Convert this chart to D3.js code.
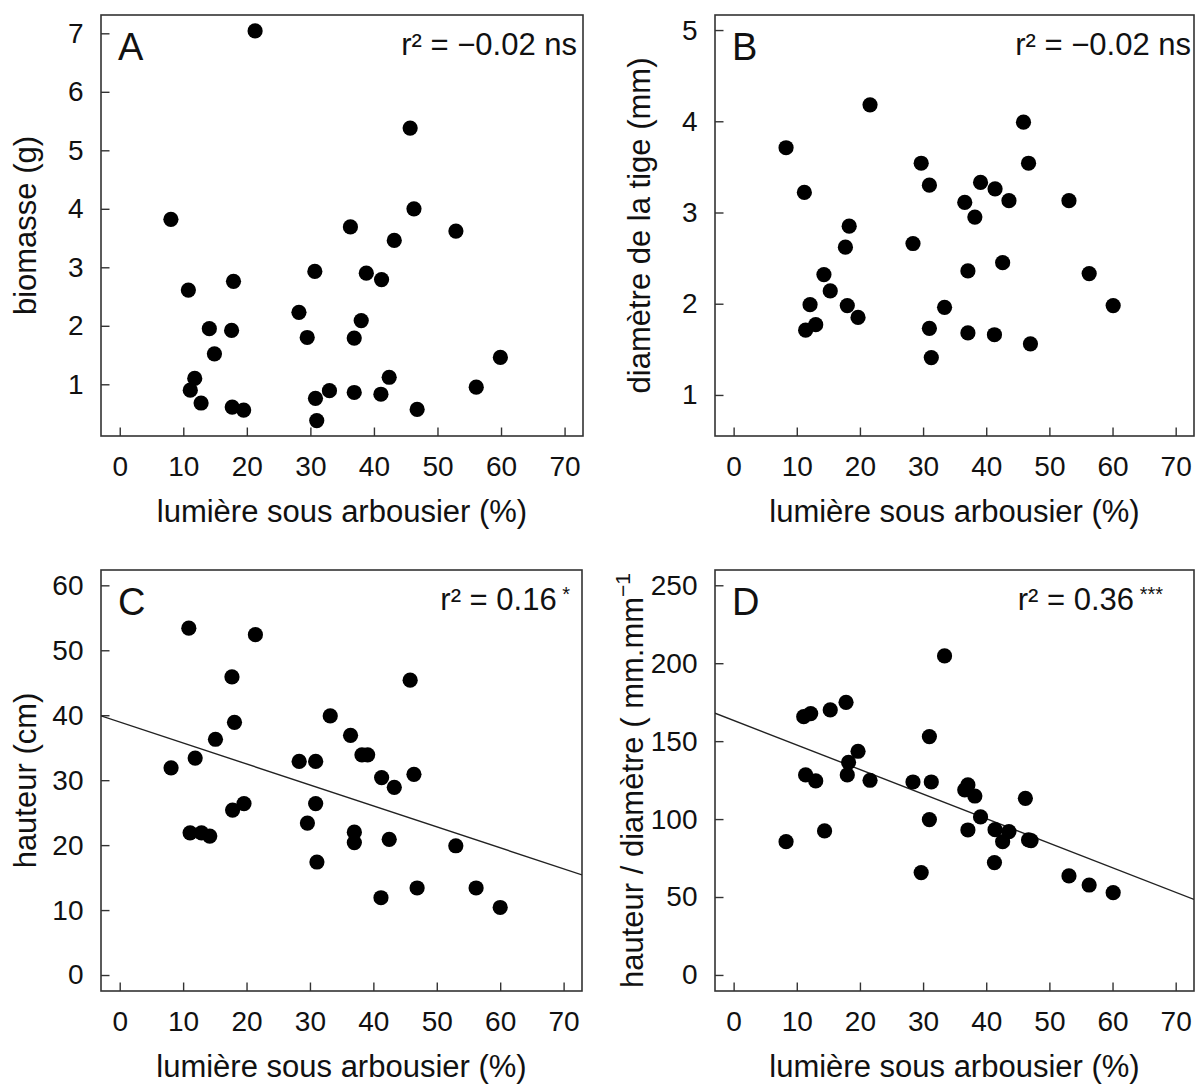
<!DOCTYPE html>
<html><head><meta charset="utf-8">
<script src="https://cdn.jsdelivr.net/npm/d3@7"></script>
<style>
html,body{margin:0;padding:0;background:#fff;}
svg{display:block;}
text{font-family:"Liberation Sans",Arial,Helvetica,sans-serif;fill:#111;}
</style></head>
<body>
<svg id="chart" width="1197" height="1084"></svg>
<script>
// ---------- data ----------
const xTicks = [0, 10, 20, 30, 40, 50, 60, 70];
const xTitle = "lumière sous arbousier (%)";

const lightA = [21.3,45.7,46.3,8.05,36.3,52.9,43.2,30.7,38.8,41.2,10.8,17.9,28.2,38.0,14.1,17.6,29.5,36.9,14.9,59.9,11.8,42.4,11.1,56.1,33.0,36.9,41.1,30.8,12.8,17.7,19.5,46.8,31.0];
const biomass = [7.04,5.38,4.00,3.82,3.69,3.62,3.46,2.93,2.90,2.79,2.61,2.76,2.23,2.09,1.95,1.92,1.80,1.79,1.52,1.46,1.10,1.12,0.90,0.95,0.89,0.86,0.83,0.76,0.68,0.61,0.56,0.57,0.38];
const ticksA = [1,2,3,4,5,6,7];

const lightB = [21.6,45.9,8.3,29.7,46.7,31.0,39.1,41.4,11.2,36.6,43.6,53.1,38.2,18.3,17.7,28.4,42.6,37.1,56.3,14.3,15.3,12.1,18.0,60.1,33.4,19.7,11.4,13.0,31.0,37.1,41.3,47.0,31.3];
const diameter = [4.18,3.99,3.71,3.54,3.54,3.30,3.33,3.26,3.22,3.11,3.13,3.13,2.95,2.85,2.62,2.66,2.45,2.36,2.33,2.32,2.14,1.99,1.98,1.98,1.96,1.85,1.71,1.77,1.73,1.68,1.66,1.56,1.41];
const ticksB = [1,2,3,4,5];

const lightC = [10.9,21.4,17.7,45.8,33.2,18.1,15.1,36.4,38.2,39.1,11.9,8.1,28.3,30.9,46.4,41.3,43.3,30.9,19.6,17.8,29.6,37.0,37.0,42.5,11.1,12.9,14.2,53.0,31.1,46.9,56.2,41.2,60.0];
const heightCm = [53.4,52.4,45.9,45.4,39.9,38.9,36.3,36.9,33.9,33.9,33.4,31.9,32.9,32.9,30.9,30.4,28.9,26.4,26.4,25.4,23.4,22.0,20.4,20.9,21.9,21.9,21.4,19.9,17.4,13.4,13.4,11.9,10.4];
const ticksC = [0,10,20,30,40,50,60];
const fitC = [38.96, -0.323]; // intercept, slope

const lightD = [33.4,17.8,15.3,12.2,11.1,31.0,19.7,18.2,18.0,11.4,13.0,21.6,28.4,31.3,37.1,36.6,38.2,46.2,39.1,31.0,41.4,43.6,37.1,42.6,46.7,47.1,14.4,8.3,41.3,29.7,53.1,56.3,60.1];
const ratio = [204.7,174.9,170.0,167.7,165.7,152.9,143.5,136.4,128.3,128.3,124.5,124.9,123.8,123.8,121.9,118.7,114.8,113.3,101.4,99.7,93.2,92.0,93.0,85.5,86.6,86.2,92.4,85.5,72.1,65.7,63.5,57.7,52.8];
const ticksD = [0,50,100,150,200,250];
const fitD = [163.3, -1.575];

const panels = [
  {id:"A", x:lightA, y:biomass, yTicks:ticksA, yDom:[0.116,7.313], box:[101,583,15,436], ylab:"biomasse (g)", ylabX:36, r2:"r² = −0.02 ns", stars:"", r2Right:577, fit:null},
  {id:"B", x:lightB, y:diameter, yTicks:ticksB, yDom:[0.55,5.165], box:[715,1194,15,436], ylab:"diamètre de la tige (mm)", ylabX:650, r2:"r² = −0.02 ns", stars:"", r2Right:1191, fit:null},
  {id:"C", x:lightC, y:heightCm, yTicks:ticksC, yDom:[-2.46,62.36], box:[101,582,570,991], ylab:"hauteur (cm)", ylabX:36, r2:"r² = 0.16", stars:"*", r2Right:570, fit:fitC},
  {id:"D", x:lightD, y:ratio, yTicks:ticksD, yDom:[-10.3,259.8], box:[715,1194,570,991], ylab:"hauteur / diamètre ( mm.mm", ylabSup:"−1", ylabX:643, r2:"r² = 0.36", stars:"***", r2Right:1163, fit:fitD}
];

// ---------- drawing ----------
const svg = d3.select("#chart");
const defs = svg.append("defs");
const tickLen = 8.5;

panels.forEach(p => {
  const [L, R, T, B] = p.box;
  const xs = d3.scaleLinear().domain([-2.95, 72.9]).range([L, R]);
  const ys = d3.scaleLinear().domain(p.yDom).range([B, T]);
  const g = svg.append("g");

  defs.append("clipPath").attr("id", "clip" + p.id)
    .append("rect").attr("x", L).attr("y", T).attr("width", R - L).attr("height", B - T);

  // x axis (inward ticks)
  const xa = g.append("g").attr("transform", `translate(0,${B})`)
    .call(d3.axisBottom(xs).tickValues(xTicks).tickSize(-tickLen).tickPadding(tickLen + 12).tickFormat(d3.format("d")));
  xa.select(".domain").remove();
  xa.selectAll(".tick line").attr("stroke", "#333").attr("stroke-width", 1.4);
  xa.selectAll(".tick text").attr("font-size", 28).attr("fill", "#111")
    .attr("font-family", '"Liberation Sans",Arial,sans-serif');

  // y axis
  const ya = g.append("g").attr("transform", `translate(${L},0)`)
    .call(d3.axisLeft(ys).tickValues(p.yTicks).tickSize(-tickLen).tickPadding(tickLen + 9).tickFormat(d3.format("d")));
  ya.select(".domain").remove();
  ya.selectAll(".tick line").attr("stroke", "#333").attr("stroke-width", 1.4);
  ya.selectAll(".tick text").attr("font-size", 28).attr("fill", "#111")
    .attr("font-family", '"Liberation Sans",Arial,sans-serif');

  // box
  g.append("rect").attr("x", L).attr("y", T).attr("width", R - L).attr("height", B - T)
    .attr("fill", "none").attr("stroke", "#333").attr("stroke-width", 1.6);

  // regression line
  if (p.fit) {
    const d0 = xs.domain()[0], d1 = xs.domain()[1];
    g.append("line").attr("clip-path", `url(#clip${p.id})`)
      .attr("x1", xs(d0)).attr("y1", ys(p.fit[0] + p.fit[1] * d0))
      .attr("x2", xs(d1)).attr("y2", ys(p.fit[0] + p.fit[1] * d1))
      .attr("stroke", "#222").attr("stroke-width", 1.4);
  }

  // points
  g.append("g").selectAll("circle").data(p.x.map((v, i) => [v, p.y[i]])).join("circle")
    .attr("cx", d => xs(d[0])).attr("cy", d => ys(d[1])).attr("r", 7.6).attr("fill", "#000");

  // panel letter
  g.append("text").attr("x", L + 17).attr("y", T + 45).attr("font-size", 38).text(p.id);

  // r² annotation
  const rt = g.append("text").attr("x", p.r2Right).attr("y", T + 40).attr("text-anchor", "end").attr("font-size", 31);
  rt.append("tspan").text(p.r2);
  if (p.stars) {
    rt.append("tspan").attr("font-size", 20).attr("dy", -9).text(" " + p.stars);
  }

  // x title
  g.append("text").attr("x", (L + R) / 2).attr("y", B + 86).attr("text-anchor", "middle")
    .attr("font-size", 31).text(xTitle);

  // y title
  const yt = g.append("text").attr("transform", `translate(${p.ylabX},${(T + B) / 2}) rotate(-90)`)
    .attr("text-anchor", "middle").attr("font-size", 31);
  yt.append("tspan").text(p.ylab);
  if (p.ylabSup) yt.append("tspan").attr("font-size", 21).attr("dy", -13).text(p.ylabSup);
});
</script>
</body></html>
